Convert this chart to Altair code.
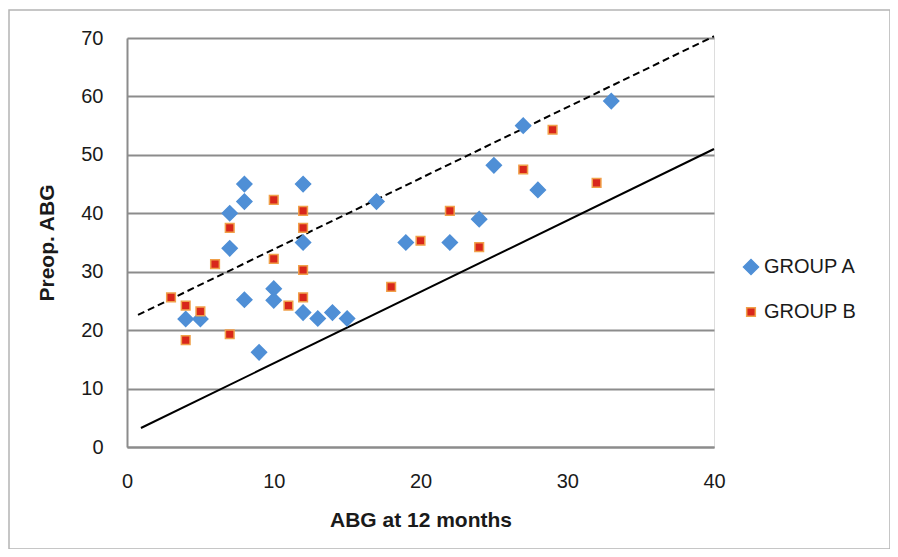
import altair as alt
import pandas as pd

# Group A (blue diamonds)
a_x = [4, 5, 7, 7, 8, 8, 8, 9, 10, 10, 12, 12, 12, 13, 14, 15, 17, 19, 22, 24, 25, 27, 28, 33]
a_y = [21.9, 21.9, 34, 40, 42, 45, 25.2, 16.2, 27.1, 25.1, 45, 35, 23, 22, 23, 22, 42, 35, 35, 39, 48.2, 55, 44, 59.2]

# Group B (red squares)
b_x = [3, 4, 4, 5, 6, 7, 7, 10, 10, 11, 12, 12, 12, 12, 18, 20, 22, 24, 27, 29, 32]
b_y = [25.6, 24.2, 18.3, 23.2, 31.3, 37.5, 19.3, 42.3, 32.2, 24.2, 40.4, 37.5, 30.3, 25.6,
       27.4, 35.3, 40.4, 34.2, 47.5, 54.3, 45.2]

groups = ["GROUP A", "GROUP B"]

# Reference lines (end points)
dash_x = [0.75, 40]
dash_y = [22.6, 70.3]
solid_x = [0.95, 40]
solid_y = [3.25, 51.0]

x_ticks = [0, 10, 20, 30, 40]
y_ticks = [0, 10, 20, 30, 40, 50, 60, 70]

pts = pd.DataFrame({
    "x": a_x + b_x,
    "y": a_y + b_y,
    "group": [groups[0]] * len(a_x) + [groups[1]] * len(b_x),
})
dash_df = pd.DataFrame({"x": dash_x, "y": dash_y})
solid_df = pd.DataFrame({"x": solid_x, "y": solid_y})

FONT = "Liberation Sans"

xscale = alt.Scale(domain=[0, 40], nice=False, zero=False)
yscale = alt.Scale(domain=[0, 70], nice=False, zero=False)

xenc = alt.X("x:Q", scale=xscale, title="ABG at 12 months",
             axis=alt.Axis(values=x_ticks, grid=False, ticks=False, tickSize=0,
                           labelFlush=False, labelPadding=24, titlePadding=18,
                           domainColor="#8c8c8c", domainWidth=2, labelFontSize=20,
                           labelColor="#1a1a1a", titleFontSize=21, titleFontWeight="bold",
                           titleColor="#1a1a1a", labelFont=FONT, titleFont=FONT))
yenc = alt.Y("y:Q", scale=yscale, title="Preop. ABG",
             axis=alt.Axis(values=y_ticks, grid=True, gridColor="#8c8c8c", gridWidth=2,
                           ticks=False, tickSize=0, labelFlush=False, labelPadding=24,
                           titlePadding=23, domainColor="#8c8c8c", domainWidth=2,
                           labelFontSize=20, labelColor="#1a1a1a", titleFontSize=21,
                           titleFontWeight="bold", titleColor="#1a1a1a", labelFont=FONT,
                           titleFont=FONT))

frame = alt.Chart(pd.DataFrame({"a": [0]})).mark_rect(
    fill=None, stroke="#b4b4b4", strokeWidth=1.5
).encode(x=alt.value(-118), x2=alt.value(763), y=alt.value(-28), y2=alt.value(511))

dashed = alt.Chart(dash_df).mark_line(color="black", strokeWidth=2, strokeDash=[7, 4]).encode(
    x=xenc, y=yenc)
solid = alt.Chart(solid_df).mark_line(color="black", strokeWidth=2).encode(
    x=alt.X("x:Q", scale=xscale), y=alt.Y("y:Q", scale=yscale))

points = alt.Chart(pts).mark_point(filled=True, opacity=1, strokeWidth=1.5).encode(
    x=alt.X("x:Q", scale=xscale),
    y=alt.Y("y:Q", scale=yscale),
    color=alt.Color("group:N", scale=alt.Scale(domain=groups, range=["#4F8FD6", "#D8261B"]),
                    legend=alt.Legend(title=None, orient="none", legendX=614, legendY=219,
                                      labelFontSize=20, labelFont=FONT, labelColor="#1a1a1a",
                                      symbolSize=130, rowPadding=24, labelOffset=3,
                                      padding=0, symbolStrokeWidth=1.5)),
    shape=alt.Shape("group:N", scale=alt.Scale(domain=groups, range=["diamond", "square"])),
    stroke=alt.Stroke("group:N", scale=alt.Scale(domain=groups, range=["#4F8FD6", "#F0A04A"])),
    size=alt.Size("group:N", scale=alt.Scale(domain=groups, range=[225, 75]), legend=None),
)

chart = alt.layer(frame, dashed, solid, points).properties(
    width=587, height=409,
    autosize=alt.AutoSizeParams(type="none"),
    padding={"left": 119, "top": 30, "right": 176, "bottom": 102},
).configure_view(stroke=None).configure(background="white")

chart.save("out.html", embed_options={"renderer": "svg", "actions": False})
